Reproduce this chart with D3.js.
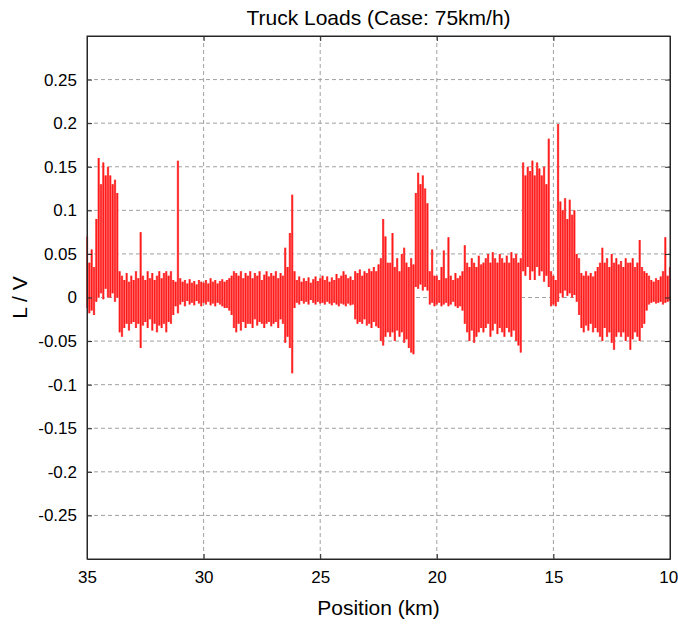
<!DOCTYPE html>
<html>
<head>
<meta charset="utf-8">
<script src="https://cdn.jsdelivr.net/npm/d3@7"></script>
<style>
  body { margin: 0; background: #fff; }
  text { font-family: "Liberation Sans", Arial, sans-serif; fill: #000; }
</style>
</head>
<body>
<div id="chart"></div>
<script>
// sampling: every 0.1 km from 35 km down to 10 km
var startKm = 35, stepKm = 0.1;

// upper envelope of L/V, one row per km (35.0 .. 10.1), last value at 10.0
var hiVals = [
  0.07, 0.04, 0.055, 0.035, 0.09, 0.16, 0.13, 0.155, 0.14, 0.15,
  0.14, 0.13, 0.135, 0.12, 0.03, 0.025, 0.02, 0.028, 0.018, 0.025,
  0.02, 0.03, 0.022, 0.075, 0.025, 0.02, 0.03, 0.022, 0.028, 0.02,
  0.025, 0.03, 0.022, 0.028, 0.03, 0.025, 0.03, 0.02, 0.018, 0.157,
  0.022, 0.018, 0.02, 0.016, 0.021, 0.017, 0.019, 0.015, 0.02, 0.018,
  0.017, 0.02, 0.016, 0.022, 0.018, 0.02, 0.016, 0.019, 0.021, 0.018,
  0.02, 0.022, 0.025, 0.03, 0.028, 0.025, 0.03, 0.022, 0.028, 0.025,
  0.03, 0.022, 0.028, 0.025, 0.03, 0.02, 0.026, 0.03, 0.024, 0.028,
  0.025, 0.03, 0.022, 0.028, 0.025, 0.057, 0.035, 0.074, 0.118, 0.03,
  0.02, 0.024, 0.018, 0.022, 0.019, 0.023, 0.017, 0.021, 0.024, 0.019,
  0.022, 0.025, 0.02, 0.024, 0.018, 0.023, 0.02, 0.027, 0.022, 0.025,
  0.03, 0.026, 0.022, 0.024, 0.02, 0.03, 0.028, 0.032, 0.025, 0.03,
  0.028, 0.033, 0.03, 0.035, 0.03, 0.038, 0.045, 0.09, 0.07, 0.04,
  0.04, 0.074, 0.035, 0.045, 0.03, 0.05, 0.057, 0.04, 0.035, 0.045,
  0.038, 0.12, 0.143, 0.13, 0.14, 0.125, 0.108, 0.03, 0.055, 0.025,
  0.025, 0.02, 0.035, 0.054, 0.022, 0.069, 0.025, 0.02, 0.028, 0.022,
  0.025, 0.03, 0.06, 0.04, 0.035, 0.045, 0.04, 0.035, 0.048, 0.038,
  0.04, 0.045, 0.05, 0.04, 0.052, 0.045, 0.04, 0.05, 0.045, 0.04,
  0.048, 0.04, 0.052, 0.045, 0.05, 0.04, 0.045, 0.155, 0.14, 0.15,
  0.145, 0.157, 0.14, 0.155, 0.148, 0.14, 0.15, 0.13, 0.182, 0.03,
  0.025, 0.02, 0.199, 0.11, 0.1, 0.114, 0.09, 0.112, 0.095, 0.1,
  0.05, 0.045, 0.028, 0.025, 0.03, 0.025, 0.028, 0.024, 0.03, 0.035,
  0.04, 0.057, 0.04, 0.045, 0.035, 0.05, 0.04, 0.045, 0.038, 0.042,
  0.035, 0.045, 0.04, 0.04, 0.045, 0.035, 0.04, 0.066, 0.035, 0.03,
  0.028, 0.025, 0.02, 0.018, 0.022, 0.02, 0.024, 0.03, 0.069, 0.025,
  0.035
];

// lower envelope of L/V, same sampling
var loVals = [
  -0.012, -0.018, -0.015, -0.02, -0.005, 0.0, 0.005, -0.002, 0.01, 0.0,
  0.0, 0.005, -0.005, 0.0, -0.04, -0.045, -0.035, -0.03, -0.038, -0.03,
  -0.028, -0.035, -0.03, -0.058, -0.032, -0.028, -0.035, -0.025, -0.038, -0.03,
  -0.04, -0.032, -0.035, -0.03, -0.04, -0.028, -0.03, -0.02, -0.01, -0.018,
  -0.008, -0.005, -0.01, -0.004, -0.008, -0.006, -0.009, -0.004, -0.007, -0.01,
  -0.006, -0.008, -0.005, -0.009, -0.007, -0.01, -0.006, -0.008, -0.01, -0.012,
  -0.012, -0.015, -0.02, -0.035, -0.04, -0.03, -0.038, -0.028, -0.035, -0.03,
  -0.03, -0.035, -0.025, -0.032, -0.028, -0.03, -0.035, -0.03, -0.028, -0.033,
  -0.03, -0.028, -0.035, -0.025, -0.03, -0.052, -0.045, -0.058, -0.087, -0.012,
  -0.006, -0.008, -0.004, -0.007, -0.005, -0.008, -0.003, -0.006, -0.008, -0.005,
  -0.007, -0.006, -0.008, -0.005, -0.007, -0.009, -0.006, -0.008, -0.01, -0.007,
  -0.008, -0.01, -0.007, -0.009, -0.008, -0.025, -0.03, -0.028, -0.03, -0.025,
  -0.032, -0.03, -0.035, -0.028, -0.033, -0.035, -0.05, -0.055, -0.045, -0.04,
  -0.045, -0.04, -0.05, -0.038, -0.045, -0.04, -0.052, -0.048, -0.058, -0.063,
  -0.065, 0.012, 0.01, 0.015, 0.008, 0.012, 0.008, -0.008, -0.006, -0.01,
  -0.008, -0.006, -0.01, -0.008, -0.006, -0.01, -0.008, -0.005, -0.01, -0.012,
  -0.01, -0.015, -0.03, -0.04, -0.05, -0.038, -0.052, -0.045, -0.04, -0.035,
  -0.04, -0.035, -0.03, -0.045, -0.038, -0.03, -0.042, -0.035, -0.04, -0.045,
  -0.035, -0.04, -0.045, -0.038, -0.05, -0.055, -0.063, 0.03, 0.025, 0.035,
  0.02, 0.03, 0.02, 0.035, 0.025, 0.03, 0.018, 0.025, 0.012, -0.01,
  -0.008, -0.01, -0.005, 0.005, 0.0, 0.008, 0.002, 0.005, 0.0, 0.003,
  -0.005, -0.02, -0.035, -0.04, -0.032, -0.038, -0.03, -0.04, -0.035, -0.04,
  -0.045, -0.05, -0.035, -0.045, -0.04, -0.052, -0.06, -0.045, -0.04, -0.045,
  -0.04, -0.05, -0.045, -0.06, -0.048, -0.04, -0.045, -0.05, -0.035, -0.03,
  -0.015, -0.008, -0.006, -0.005, -0.007, -0.006, -0.005, -0.008, -0.006, -0.005,
  -0.004
];

var xTicks = [35, 30, 25, 20, 15, 10];
var yTicks = [-0.25, -0.2, -0.15, -0.1, -0.05, 0, 0.05, 0.1, 0.15, 0.2, 0.25];

var data = hiVals.map(function(h, i) {
  return { km: startKm - i * stepKm, hi: h, lo: loVals[i] };
});

var W = 678, H = 624;
var margin = { top: 36, right: 8, bottom: 65, left: 87 },
    width = 670 - margin.left,
    height = 559 - margin.top;

var svg = d3.select("#chart")
  .append("svg")
  .attr("width", W)
  .attr("height", H);

var g = svg.append("g")
  .attr("transform", "translate(" + margin.left + "," + margin.top + ")");

var x = d3.scaleLinear().domain([35, 10]).range([0, width]);
var y = d3.scaleLinear().domain([-0.3, 0.3]).range([height, 0]);

// grid
g.append("g")
  .selectAll("line")
  .data(xTicks.slice(1, -1))
  .enter()
  .append("line")
    .attr("x1", function(d) { return x(d); })
    .attr("x2", function(d) { return x(d); })
    .attr("y1", 0)
    .attr("y2", height)
    .attr("stroke", "#a0a0a0")
    .attr("stroke-dasharray", "4,3");

g.append("g")
  .selectAll("line")
  .data(yTicks)
  .enter()
  .append("line")
    .attr("x1", 0)
    .attr("x2", width)
    .attr("y1", function(d) { return y(d); })
    .attr("y2", function(d) { return y(d); })
    .attr("stroke", "#a0a0a0")
    .attr("stroke-dasharray", "4,3");

// signal: light envelope band + one vertical stroke per sample
var area = d3.area()
  .x(function(d) { return x(d.km); })
  .y0(function(d) { return y(d.lo); })
  .y1(function(d) { return y(d.hi); })
  .curve(d3.curveStep);

g.append("path")
  .datum(data)
  .attr("d", area)
  .attr("fill", "#ff7070");

g.append("g")
  .selectAll("line")
  .data(data)
  .enter()
  .append("line")
    .attr("x1", function(d) { return x(d.km); })
    .attr("x2", function(d) { return x(d.km); })
    .attr("y1", function(d) { return y(d.lo); })
    .attr("y2", function(d) { return y(d.hi); })
    .attr("stroke", "#ff1a1a")
    .attr("stroke-width", 1.3);

// axes (MATLAB style, ticks inside)
var xAxis = d3.axisBottom(x).tickValues(xTicks).tickSizeInner(-5).tickSizeOuter(0).tickPadding(12);
var yAxis = d3.axisLeft(y).tickValues(yTicks).tickSizeInner(-5).tickSizeOuter(0).tickPadding(10)
  .tickFormat(function(d) { return String(d); });

var gx = g.append("g").attr("transform", "translate(0," + height + ")").call(xAxis);
var gy = g.append("g").call(yAxis);

g.append("g").call(d3.axisTop(x).tickValues(xTicks).tickSizeInner(-5).tickSizeOuter(0).tickFormat(""));
g.append("g").attr("transform", "translate(" + width + ",0)")
  .call(d3.axisRight(y).tickValues(yTicks).tickSizeInner(-5).tickSizeOuter(0).tickFormat(""));

svg.selectAll(".domain").attr("stroke", "#262626");
svg.selectAll(".tick line").attr("stroke", "#262626");
gx.selectAll("text").style("font-size", "17px").attr("fill", "#000");
gy.selectAll("text").style("font-size", "17px").attr("fill", "#000");
// last x label sits against the window edge
gx.selectAll(".tick text").filter(function(d) { return d === 10; })
  .attr("text-anchor", "end").attr("dx", "0.45em");

// frame
g.append("rect")
  .attr("width", width)
  .attr("height", height)
  .attr("fill", "none")
  .attr("stroke", "#262626");

// labels
svg.append("text")
  .attr("x", margin.left + width / 2)
  .attr("y", 25)
  .attr("text-anchor", "middle")
  .style("font-size", "21px")
  .text("Truck Loads (Case: 75km/h)");

svg.append("text")
  .attr("x", margin.left + width / 2)
  .attr("y", 615)
  .attr("text-anchor", "middle")
  .style("font-size", "21px")
  .text("Position (km)");

svg.append("text")
  .attr("transform", "translate(27," + (margin.top + height / 2) + ") rotate(-90)")
  .attr("text-anchor", "middle")
  .style("font-size", "21px")
  .text("L / V");
</script>
</body>
</html>
